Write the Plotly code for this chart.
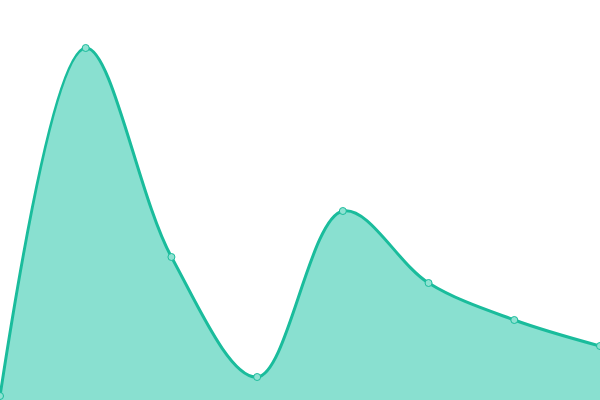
import plotly.graph_objects as go

x_vals = [0, 1, 2, 3, 4, 5, 6, 7]
y_vals = [4, 352, 143, 23, 189, 117, 80, 54]

fig = go.Figure()
fig.add_trace(go.Scatter(
    x=x_vals, y=y_vals,
    mode="lines+markers",
    fill="tozeroy",
    fillcolor="rgba(137,224,208,1)",
    line=dict(color="#1abc9c", width=3, shape="spline", smoothing=1),
    marker=dict(size=7, color="#8fe2d2", line=dict(color="#1abc9c", width=1)),
    hoverinfo="skip",
))
fig.update_layout(
    width=600, height=400,
    margin=dict(l=0, r=0, t=0, b=0),
    paper_bgcolor="white", plot_bgcolor="white",
    showlegend=False,
    xaxis=dict(range=[0, 7], visible=False, fixedrange=True),
    yaxis=dict(range=[0, 400], visible=False, fixedrange=True),
)
fig.write_html("out.html", config={"displayModeBar": False})

with open("out.html", "r", encoding="utf-8") as f:
    html = f.read()
html = html.replace("<head>", "<head><style>html,body{margin:0;padding:0;overflow:hidden;}</style>", 1)
with open("out.html", "w", encoding="utf-8") as f:
    f.write(html)
